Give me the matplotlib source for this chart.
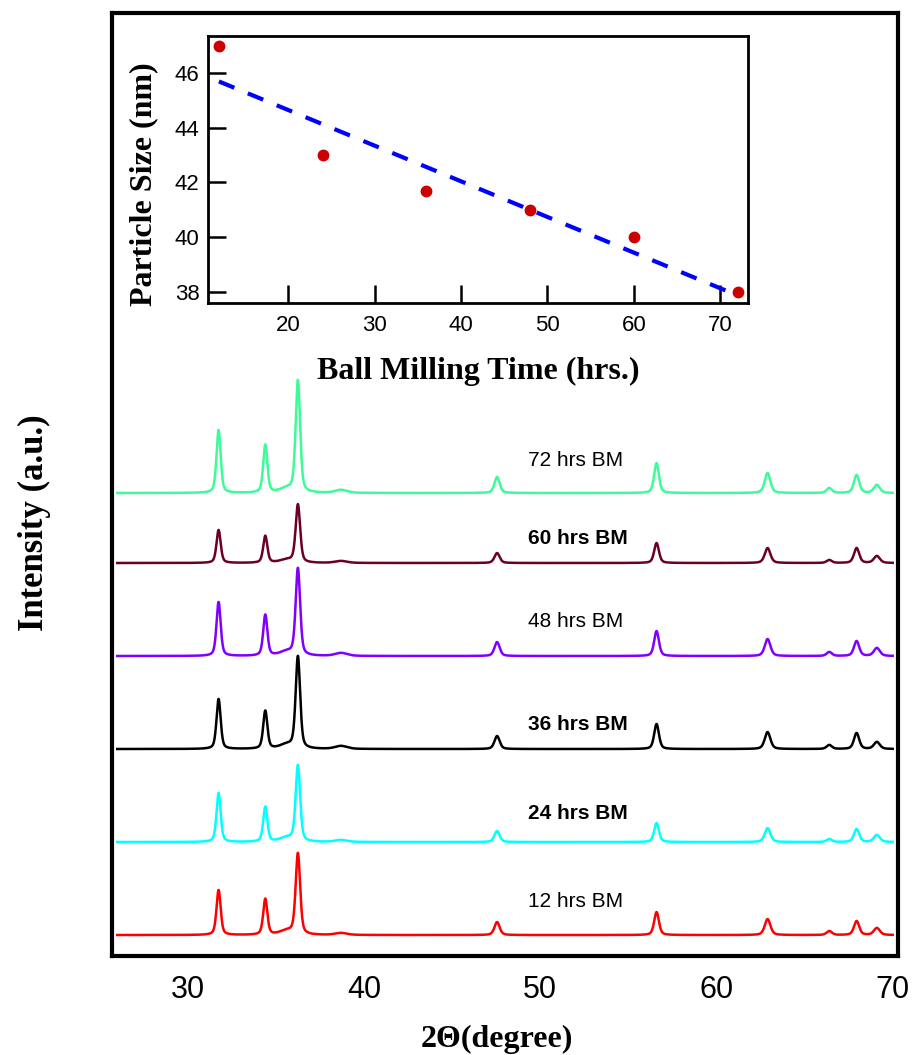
import numpy as np
import matplotlib.pyplot as plt

# XRD peaks (2theta, deg) and their widths
peak_pos = [31.75, 34.40, 35.60, 36.25, 38.70, 47.55, 56.60, 62.90, 66.40, 67.95, 69.10]
peak_fwhm = [0.28, 0.28, 0.90, 0.30, 0.80, 0.35, 0.32, 0.38, 0.35, 0.35, 0.40]

# peak heights (a.u.) for each milling time
h12 = [45, 36, 4, 81, 2, 13, 23, 16, 4, 14, 7]
h24 = [49, 35, 4, 76, 2, 11, 19, 14, 3, 13, 7]
h36 = [50, 38, 4, 92, 3, 13, 25, 17, 4, 16, 7]
h48 = [54, 41, 4, 87, 3, 14, 25, 17, 4, 15, 8]
h60 = [33, 27, 3, 58, 2, 10, 20, 15, 3, 15, 7]
h72 = [63, 48, 4, 112, 3, 16, 30, 20, 5, 18, 8]

samples = ['12 hrs BM', '24 hrs BM', '36 hrs BM', '48 hrs BM', '60 hrs BM', '72 hrs BM']
heights = [h12, h24, h36, h48, h60, h72]
offsets = [21, 114, 207, 300, 393, 463]
colors = ['#ff0000', '#00ffff', '#000000', '#7f00ff', '#6b0026', '#3dfc98']
bold_label = [False, True, True, False, True, False]
label_dy = [34, 29, 25, 35, 25, 33]

# particle size vs milling time
bm_time = [12, 24, 36, 48, 60, 72]
particle_size = [47.0, 43.0, 41.7, 41.0, 40.0, 38.0]


def pattern(tt, heights):
    y = np.zeros_like(tt)
    for p, h, w in zip(peak_pos, heights, peak_fwhm):
        g = np.exp(-4 * np.log(2) * ((tt - p) / w) ** 2)
        l = 1 / (1 + 4 * ((tt - p) / w) ** 2)
        y += h * (0.55 * g + 0.45 * l)
    return y


sans = 'Liberation Sans'
serif = 'Liberation Serif'

fig = plt.figure(figsize=(9.14, 10.55), dpi=100)
ax = fig.add_axes([0.1225, 0.0938, 0.86, 0.8939])

tt = np.linspace(26, 70, 4000)
for name, h, off, c, b, dy in zip(samples, heights, offsets, colors, bold_label, label_dy):
    ax.plot(tt, pattern(tt, h) + off, color=c, lw=1.8)
    ax.text(49.3, off + dy, name, fontsize=15, family=sans,
            fontweight='bold' if b else 'normal', ha='left', va='center')

ax.set_xlim(25.7, 70.3)
ax.set_ylim(0, 943)
ax.set_yticks([])
ax.set_xticks([30, 40, 50, 60, 70])
ax.tick_params(axis='x', length=0, pad=14, labelsize=22)
for lab in ax.get_xticklabels():
    lab.set_family(sans)
for s in ax.spines.values():
    s.set_linewidth(3)
ax.set_xlabel('2Θ(degree)', fontsize=23, family=serif, fontweight='bold', labelpad=14)
ax.set_ylabel('Intensity (a.u.)', fontsize=25, family=serif, fontweight='bold', labelpad=44)
ax.xaxis.label.set_x(0.49)
ax.yaxis.label.set_y(0.459)

# inset: particle size trend
ins = fig.add_axes([0.2276, 0.7128, 0.5908, 0.2531])
slope, icpt = np.polyfit(bm_time, particle_size, 1)
fit_x = np.array([bm_time[0], bm_time[-1]])
ins.plot(fit_x, slope * fit_x + icpt, color='#0000ff', lw=3, ls=(0, (4, 3.5)))
ins.plot(bm_time, particle_size, 'o', color='#cc0000', ms=7.5)
ins.set_xlim(10.74, 73.2)
ins.set_ylim(37.6, 47.35)
ins.set_xticks([20, 30, 40, 50, 60, 70])
ins.set_yticks([38, 40, 42, 44, 46])
ins.tick_params(direction='in', length=13, width=1.8, labelsize=16)
ins.tick_params(axis='x', pad=9)
ins.tick_params(axis='y', pad=6)
for lab in ins.get_xticklabels() + ins.get_yticklabels():
    lab.set_family(sans)
for s in ins.spines.values():
    s.set_linewidth(2)
ins.set_xlabel('Ball Milling Time (hrs.)', fontsize=23, family=serif, fontweight='bold', labelpad=15)
ins.set_ylabel('Particle Size (nm)', fontsize=23, family=serif, fontweight='bold', labelpad=12)
ins.yaxis.label.set_y(0.446)

fig.savefig('out.png', dpi=100)
